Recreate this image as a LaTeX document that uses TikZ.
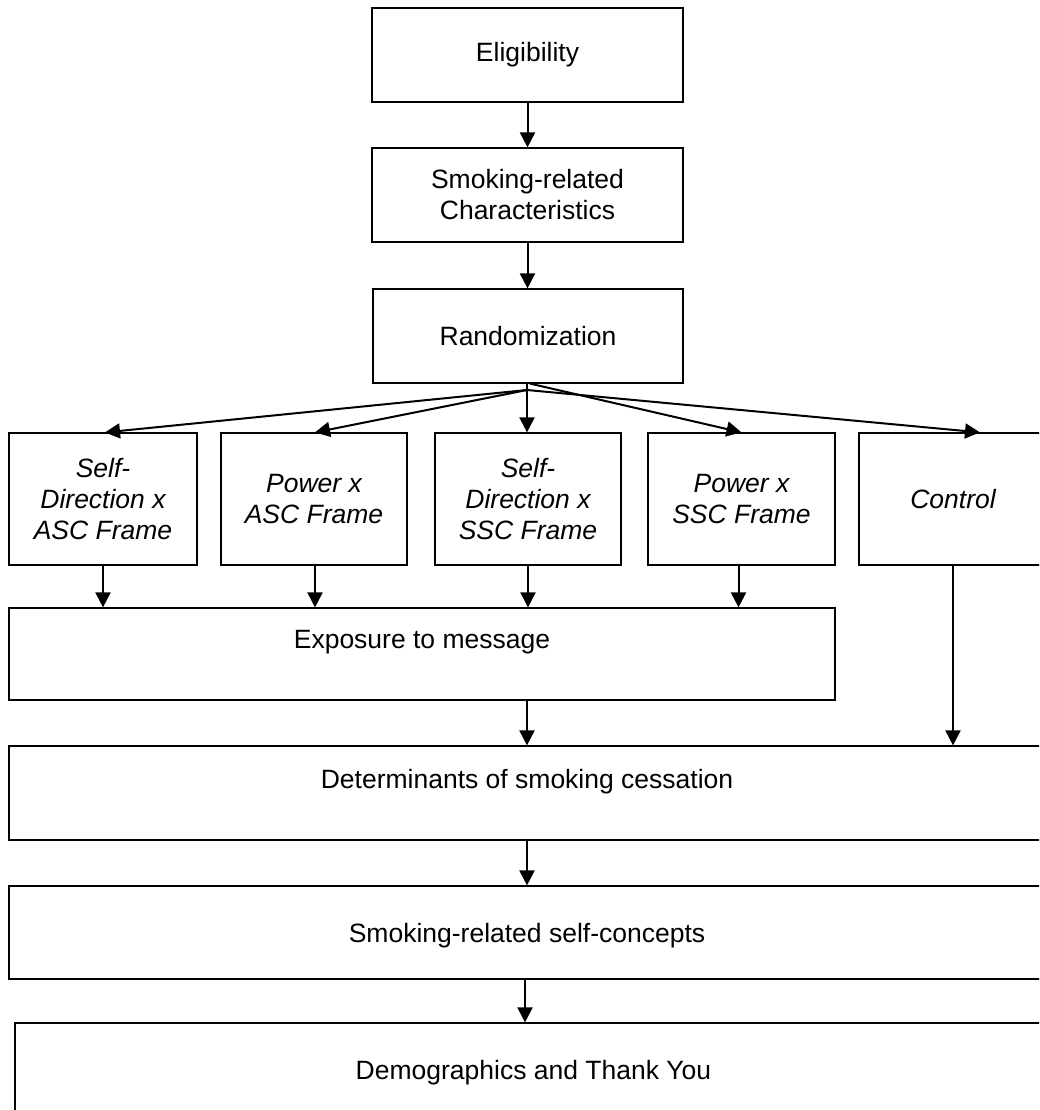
\documentclass[tikz,border=0pt]{standalone}
\usepackage{fontspec}
\setmainfont{Liberation Sans}
\usetikzlibrary{arrows.meta}
\begin{document}
\begin{tikzpicture}[x=1pt,y=-1pt,
  box/.style={draw=black, line width=1.2pt, rectangle, inner sep=0pt, align=center,
    font=\fontsize{26.5}{31}\selectfont},
  fbox/.style={box, font=\fontsize{26.5}{31}\selectfont\itshape, minimum height=132pt},
  arr/.style={-{Triangle[width=15pt,length=15pt]}, line width=2pt},
  lbl/.style={font=\fontsize{26.5}{31}\selectfont, anchor=base, inner sep=0pt}]
\useasboundingbox (0,0) rectangle (1039,1110);
\clip (0,0) rectangle (1039,1110);

% top chain
\node[box, minimum width=311pt, minimum height=94pt] (elig) at (527.5,55) {Eligibility};
\node[box, minimum width=311pt, minimum height=94pt] (smok) at (527.5,195) {Smoking-related\\Characteristics};
\node[box, minimum width=310pt, minimum height=94pt] (rand) at (528,336) {Randomization};
\coordinate (hub) at (527,390);

% arms
\node[fbox, minimum width=188pt] (b1) at (103,499) {Self-\\Direction x\\ASC Frame};
\node[fbox, minimum width=186pt] (b2) at (314,499) {Power x\\ASC Frame};
\node[fbox, minimum width=186pt] (b3) at (528,499) {Self-\\Direction x\\SSC Frame};
\node[fbox, minimum width=187pt] (b4) at (741.5,499) {Power x\\SSC Frame};
\node[fbox, minimum width=188pt] (ctrl) at (953,499) {Control};

% wide boxes
\node[box, minimum width=826pt, minimum height=92pt] (expo) at (422,654) {};
\node[lbl] (expot) at (422,648) {Exposure to message};
\node[box, minimum width=1036pt, minimum height=94pt] (det) at (527,793) {};
\node[lbl] (dett) at (527,788) {Determinants of smoking cessation};
\node[box, minimum width=1036pt, minimum height=93pt] (self) at (527,932.5) {};
\node[lbl] (selft) at (527,942) {Smoking-related self-concepts};
\node[box, minimum width=1037pt, minimum height=94pt] (demo) at (533.5,1070) {};
\node[lbl] (demot) at (533.5,1079) {Demographics and Thank You};

% connectors
\draw[arr] (elig.south) -- (elig.south |- smok.north);
\draw[arr] (smok.south) -- (smok.south |- rand.north);
\draw[line width=2pt] (hub |- rand.south) -- (hub);
\draw[arr] (hub) -- ([xshift=2pt]b1.north);
\draw[arr] (hub) -- ([xshift=1pt]b2.north);
\draw[arr] (hub) -- (hub |- b3.north);
\draw[arr] ([xshift=2pt]rand.south) -- (b4.north);
\draw[arr] (hub) -- ([xshift=27pt]ctrl.north);

\draw[arr] (b1.south) -- (b1.south |- expo.north);
\draw[arr] ([xshift=1pt]b2.south) -- ([xshift=1pt]b2.south |- expo.north);
\draw[arr] (b3.south) -- (b3.south |- expo.north);
\draw[arr] ([xshift=-3pt]b4.south) -- ([xshift=-3pt]b4.south |- expo.north);
\draw[arr] (ctrl.south) -- (ctrl.south |- det.north);

\draw[arr] (det.north |- expo.south) -- (det.north);
\draw[arr] (det.south) -- (self.north);
\draw[arr] ([xshift=-2pt]self.south) -- ([xshift=-2pt]self.south |- demo.north);
\end{tikzpicture}
\end{document}
